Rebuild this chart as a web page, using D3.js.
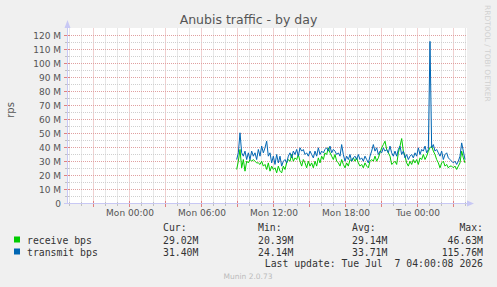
<!DOCTYPE html>
<html>
<head>
<meta charset="utf-8">
<script src="https://cdn.jsdelivr.net/npm/d3@7"></script>
<style>
  body { margin: 0; background: #f0f0f0; }
  svg { display: block; }
  .mono { font-family: "DejaVu Sans Mono", monospace; }
</style>
</head>
<body>
<svg id="chart"></svg>
<script>
// Anubis traffic, values in millions of bits per second, one sample every 500 s
var startTime = Date.UTC(2026, 6, 6, 8, 53, 20);
var stepSeconds = 500;

var receive = [
  24.3, 30.2, 38.6, 25.5, 31.4, 23.1, 30.2, 29.0, 31.4, 30.2,
  31.4, 30.2, 29.0, 29.0, 27.9, 30.2, 26.7, 27.9, 24.3, 29.0,
  23.1, 26.7, 24.3, 25.5, 21.9, 26.7, 23.1, 21.9, 26.7, 24.3,
  29.0, 31.4, 30.2, 35.0, 30.2, 32.6, 31.4, 35.0, 30.2, 26.7,
  31.4, 29.0, 25.5, 30.2, 26.7, 29.0, 25.5, 30.2, 26.7, 32.6,
  29.0, 33.8, 31.4, 36.2, 35.0, 39.8, 36.2, 33.8, 31.4, 35.0,
  30.2, 29.0, 26.7, 31.4, 27.9, 25.5, 29.0, 26.7, 31.4, 30.2,
  32.6, 30.2, 32.6, 29.0, 26.7, 27.9, 25.5, 29.0, 26.7, 25.5,
  30.2, 31.4, 30.2, 33.8, 30.2, 32.6, 36.2, 39.8, 42.1, 44.5,
  38.6, 36.2, 33.8, 27.9, 29.0, 30.2, 27.9, 36.2, 41.0, 46.4,
  37.4, 33.8, 29.0, 26.7, 30.2, 27.9, 31.4, 29.0, 31.4, 27.9,
  32.6, 31.4, 35.0, 31.4, 33.8, 37.4, 39.8, 41.0, 37.4, 35.0,
  31.4, 29.0, 25.5, 29.0, 30.2, 26.7, 27.9, 25.5, 26.7, 26.7,
  25.5, 26.7, 24.3, 26.7, 29.0, 37.4, 32.6, 29.0
];

var transmit = [
  31.4, 36.2, 50.5, 36.2, 33.8, 37.4, 31.4, 36.2, 31.4, 37.4,
  33.8, 36.2, 31.4, 38.6, 33.8, 41.0, 36.2, 39.8, 44.5, 33.8,
  36.2, 29.0, 33.8, 27.9, 35.0, 29.0, 33.8, 26.7, 30.2, 31.4,
  29.0, 33.8, 36.2, 32.6, 37.4, 35.0, 38.6, 33.8, 39.8, 37.4,
  38.6, 35.0, 36.2, 33.8, 37.4, 35.0, 32.6, 37.4, 33.8, 39.8,
  35.0, 37.4, 36.2, 38.6, 39.8, 37.4, 41.0, 36.2, 38.6, 37.4,
  35.0, 36.2, 33.8, 42.1, 35.0, 30.2, 33.8, 31.4, 35.0, 30.2,
  32.6, 33.8, 31.4, 35.0, 31.4, 32.6, 30.2, 33.8, 31.4, 29.0,
  33.8, 37.4, 42.1, 37.4, 39.8, 35.0, 37.4, 36.2, 39.8, 37.4,
  38.6, 36.2, 41.0, 36.2, 33.8, 37.4, 33.8, 38.6, 41.0, 35.0,
  37.4, 32.6, 35.0, 31.4, 33.8, 35.0, 32.6, 36.2, 33.8, 39.8,
  35.0, 38.6, 37.4, 41.0, 36.2, 38.6, 115.8, 39.8, 42.1, 37.4,
  38.6, 36.2, 33.8, 37.4, 31.4, 35.0, 36.2, 32.6, 31.4, 30.2,
  29.0, 30.2, 27.9, 30.2, 33.8, 43.3, 37.4, 31.4
];

var yTicks = [0, 10, 20, 30, 40, 50, 60, 70, 80, 90, 100, 110, 120];
var xLabelTimes = [
  Date.UTC(2026, 6, 6, 0), Date.UTC(2026, 6, 6, 6), Date.UTC(2026, 6, 6, 12),
  Date.UTC(2026, 6, 6, 18), Date.UTC(2026, 6, 7, 0)
];

var seriesNames = ["receive bps", "transmit bps"];
var curValues = ["29.02M", "31.40M"];
var minValues = ["20.39M", "24.14M"];
var avgValues = ["29.14M", "33.71M"];
var maxValues = ["46.63M", "115.76M"];
var lastUpdate = "Last update: Tue Jul \u00a07 04:00:08 2026";

var width = 497, height = 287;
var colors = ["#00cc00", "#0066b3"];

var svg = d3.select("#chart").attr("width", width).attr("height", height);
svg.append("rect").attr("width", width).attr("height", height).attr("fill", "#f0f0f0");

var x = d3.scaleUtc()
    .domain([Date.UTC(2026, 6, 5, 18, 45), Date.UTC(2026, 6, 7, 4, 5)])
    .range([67, 467]);
var y = d3.scaleLinear().domain([0, 125]).range([203.5, 28.5]);

// plot background
svg.append("rect")
    .attr("x", 67).attr("y", 28)
    .attr("width", 400).attr("height", 176)
    .attr("fill", "#ffffff");

var grid = svg.append("g");

// minor grid: every hour / every 5M, major every 3 hours / 10M
var hours = d3.utcHour.every(1).range(x.domain()[0], x.domain()[1]);
hours.forEach(function(h) {
    var px = Math.round(x(h)) - 0.5;
    var major = h.getUTCHours() % 3 === 0;
    grid.append("line")
        .attr("x1", px).attr("x2", px).attr("y1", 28.5).attr("y2", 203.5)
        .attr("stroke", major ? "#e0a0a0" : "#cfcfcf")
        .attr("stroke-dasharray", "1,1");
    grid.append("line")
        .attr("x1", px).attr("x2", px).attr("y1", major ? 201 : 202).attr("y2", major ? 207 : 206)
        .attr("stroke", major ? "#e08080" : "#c0c0c0");
});

d3.range(5, 125, 5).forEach(function(v) {
    var py = y(v);
    var major = v % 10 === 0;
    grid.append("line")
        .attr("x1", 67).attr("x2", 467).attr("y1", py).attr("y2", py)
        .attr("stroke", major ? "#e0a0a0" : "#cfcfcf")
        .attr("stroke-dasharray", "1,1");
    grid.append("line")
        .attr("x1", major ? 64 : 65).attr("x2", major ? 70 : 69).attr("y1", py).attr("y2", py)
        .attr("stroke", major ? "#e08080" : "#c0c0c0");
});

// axes
var axisColor = "#c8c8f4";
svg.append("line").attr("x1", 67.5).attr("x2", 67.5).attr("y1", 24).attr("y2", 204)
    .attr("stroke", axisColor);
svg.append("line").attr("x1", 64).attr("x2", 469).attr("y1", 203.5).attr("y2", 203.5)
    .attr("stroke", axisColor);
svg.append("path").attr("d", "M64.5,28 L67.5,20 L70.5,28 Z").attr("fill", axisColor);
svg.append("path").attr("d", "M467,200.5 L474,203.5 L467,206.5 Z").attr("fill", axisColor);

// y labels
svg.append("g").selectAll("text").data(yTicks).enter().append("text")
    .attr("x", 61)
    .attr("y", function(d) { return y(d) + 3.3; })
    .attr("text-anchor", "end")
    .attr("font-family", "DejaVu Sans")
    .attr("font-size", 9)
    .attr("fill", "#555")
    .text(function(d) { return d === 0 ? "0" : d + " M"; });

// x labels
var fmt = d3.utcFormat("%a %H:%M");
svg.append("g").selectAll("text").data(xLabelTimes).enter().append("text")
    .attr("x", function(d) { return x(d); })
    .attr("y", 216)
    .attr("text-anchor", "middle")
    .attr("font-family", "DejaVu Sans")
    .attr("font-size", 9)
    .attr("fill", "#555")
    .text(function(d) { return fmt(new Date(d)); });

// series
var line = d3.line()
    .x(function(d, i) { return x(startTime + i * stepSeconds * 1000); })
    .y(function(d) { return y(d); });

[receive, transmit].forEach(function(s, k) {
    svg.append("path")
        .attr("d", line(s))
        .attr("fill", "none")
        .attr("stroke", colors[k])
        .attr("stroke-width", 1);
});

// titles
svg.append("text")
    .attr("x", 248.5).attr("y", 24)
    .attr("text-anchor", "middle")
    .attr("font-family", "DejaVu Sans")
    .attr("font-size", 12.5)
    .attr("fill", "#555")
    .text("Anubis traffic - by day");

svg.append("text")
    .attr("transform", "translate(14,110) rotate(-90)")
    .attr("text-anchor", "middle")
    .attr("font-family", "DejaVu Sans")
    .attr("font-size", 10)
    .attr("fill", "#555")
    .text("rps");

svg.append("text")
    .attr("transform", "translate(485,5) rotate(90)")
    .attr("font-family", "DejaVu Sans")
    .attr("font-size", 7.5)
    .attr("fill", "#d0d0d0")
    .text("RRDTOOL / TOBI OETIKER");

// legend
var legend = svg.append("g").attr("class", "mono").attr("font-size", 9.8).attr("fill", "#333");
var colX = [163, 258, 352];
["Cur:", "Min:", "Avg:"].forEach(function(t, i) {
    legend.append("text").attr("x", colX[i]).attr("y", 231).text(t);
});
legend.append("text").attr("x", 483).attr("y", 231).attr("text-anchor", "end").text("Max:");

seriesNames.forEach(function(name, k) {
    var by = 243.5 + k * 12;
    svg.append("rect").attr("x", 14).attr("y", by - 7).attr("width", 6).attr("height", 6)
        .attr("fill", colors[k]);
    legend.append("text").attr("x", 27).attr("y", by).text(name);
    legend.append("text").attr("x", colX[0]).attr("y", by).text(curValues[k]);
    legend.append("text").attr("x", colX[1]).attr("y", by).text(minValues[k]);
    legend.append("text").attr("x", colX[2]).attr("y", by).text(avgValues[k]);
    legend.append("text").attr("x", 483).attr("y", by).attr("text-anchor", "end").text(maxValues[k]);
});
legend.append("text").attr("x", 483).attr("y", 267).attr("text-anchor", "end").text(lastUpdate);

svg.append("text")
    .attr("x", 248).attr("y", 279)
    .attr("text-anchor", "middle")
    .attr("font-family", "DejaVu Sans")
    .attr("font-size", 7.5)
    .attr("fill", "#bbb")
    .text("Munin 2.0.73");
</script>
</body>
</html>
